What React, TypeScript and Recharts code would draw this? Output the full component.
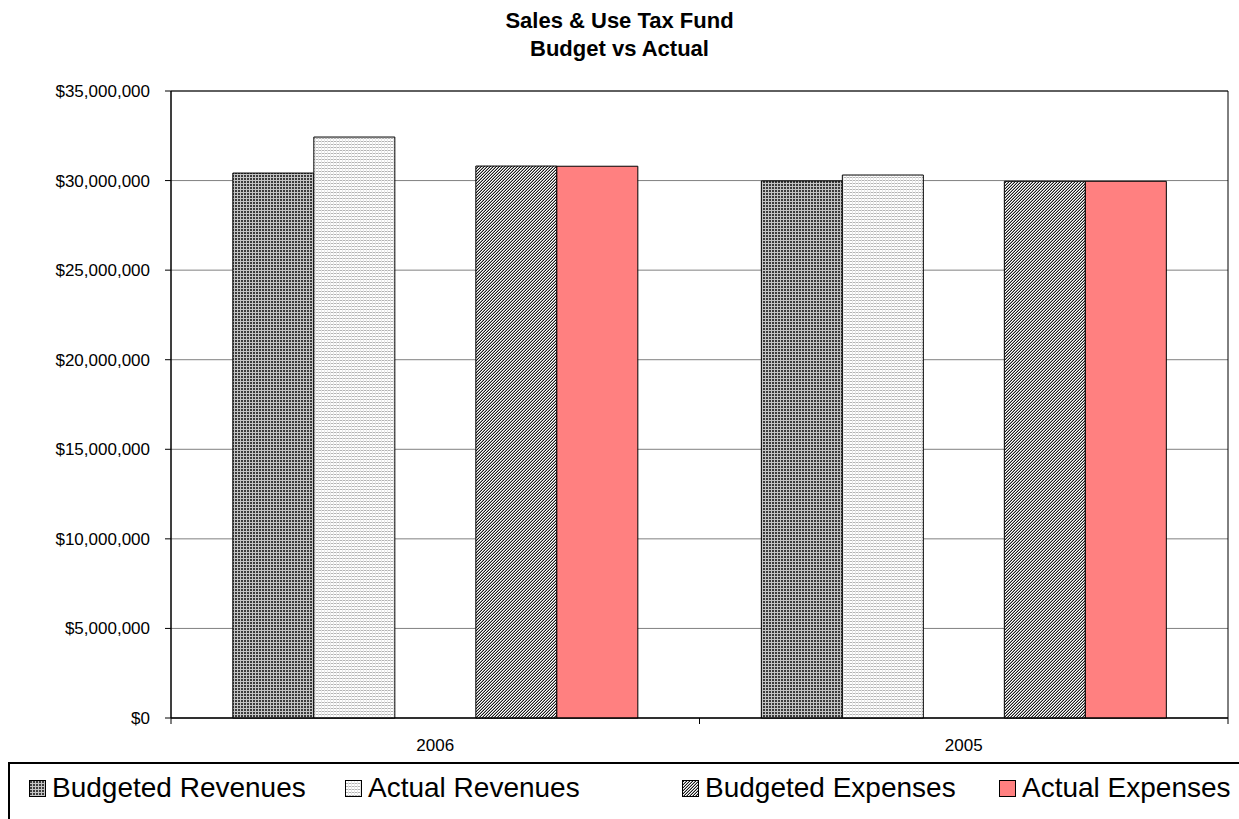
import React from 'react';
import { BarChart, Bar, XAxis, YAxis, CartesianGrid, ReferenceArea } from 'recharts';

const categories = ['2006', '2005'];
const budgetedRevenues = [30420000, 29980000];
const actualRevenues = [32430000, 30310000];
const budgetedExpenses = [30810000, 29960000];
const actualExpenses = [30800000, 29960000];
const yTicks = [0, 5000000, 10000000, 15000000, 20000000, 25000000, 30000000, 35000000];

const seriesNames = ['Budgeted Revenues', 'Actual Revenues', '', 'Budgeted Expenses', 'Actual Expenses'];

const data = categories.map((c, i) => ({
  name: c,
  br: budgetedRevenues[i],
  ar: actualRevenues[i],
  blank: null,
  be: budgetedExpenses[i],
  ae: actualExpenses[i],
}));

const W = 1239;
const H = 819;
const M_TOP = 91;
const M_RIGHT = 11;
const Y_W = 171;
const X_H = 101;
const PLOT_W = W - Y_W - M_RIGHT;
const FONT = '"Liberation Sans", Arial, sans-serif';
const LEGEND_X = [29, 345, 682, 999];

const fmt = (v: number) => '$' + v.toLocaleString('en-US');

const PatternDefs = ({ prefix }: { prefix: string }) => (
  <defs>
    <pattern id={prefix + 'br'} width="3" height="3" patternUnits="userSpaceOnUse">
      <rect width="3" height="3" fill="#3c3c3c" />
      <rect width="3" height="1" fill="#c4c4c4" />
      <rect width="1" height="3" fill="#c4c4c4" />
    </pattern>
    <pattern id={prefix + 'ar'} width="3" height="3" patternUnits="userSpaceOnUse">
      <rect width="3" height="3" fill="#ffffff" />
      <rect width="3" height="1" fill="#b4b4b4" />
      <rect width="1" height="3" fill="#e6e6e6" />
    </pattern>
    <pattern id={prefix + 'be'} width="3" height="3" patternUnits="userSpaceOnUse">
      <rect width="3" height="3" fill="#ffffff" />
      <rect x="2" y="0" width="1" height="1" fill="#1a1a1a" />
      <rect x="1" y="1" width="1" height="1" fill="#1a1a1a" />
      <rect x="0" y="2" width="1" height="1" fill="#1a1a1a" />
      <rect x="1" y="0" width="1" height="1" fill="#a0a0a0" />
      <rect x="0" y="1" width="1" height="1" fill="#a0a0a0" />
      <rect x="2" y="2" width="1" height="1" fill="#a0a0a0" />
    </pattern>
  </defs>
);

const fills = ['url(#cbr)', 'url(#car)', 'none', 'url(#cbe)', '#FF8080'];
const legendFills = ['url(#lbr)', 'url(#lar)', 'url(#lbe)', '#FF8080'];
const legendNames = seriesNames.filter((n) => n !== '');

const XTick = (props: any) => {
  const { x, y, payload, index } = props;
  const half = PLOT_W / categories.length / 2;
  return (
    <g>
      <line x1={x - half} x2={x - half} y1={y} y2={y + 6} stroke="#000" />
      {index === categories.length - 1 && (
        <line x1={x + half} x2={x + half} y1={y} y2={y + 6} stroke="#000" />
      )}
      <text x={x} y={y + 33} textAnchor="middle" fontSize={17} fontFamily={FONT} fill="#000">
        {payload.value}
      </text>
    </g>
  );
};

export default function App() {
  const keys = ['br', 'ar', 'blank', 'be', 'ae'];
  return (
    <div
      style={{
        position: 'absolute',
        left: 0,
        top: 0,
        width: W,
        height: H,
        overflow: 'hidden',
        background: '#fff',
        fontFamily: FONT,
      }}
    >
      <div
        style={{
          position: 'absolute',
          left: 0,
          top: 7,
          width: W,
          textAlign: 'center',
          fontWeight: 'bold',
          fontSize: 22,
          lineHeight: '28px',
          color: '#000',
        }}
      >
        <div>Sales &amp; Use Tax Fund</div>
        <div>Budget vs Actual</div>
      </div>
      <BarChart
        width={W}
        height={H}
        data={data}
        margin={{ top: M_TOP, right: M_RIGHT, left: 0, bottom: 0 }}
        barCategoryGap="11.7%"
        barGap={0}
      >
        <PatternDefs prefix="c" />
        <CartesianGrid vertical={false} stroke="#808080" />
        <ReferenceArea y1={0} y2={35000000} fill="none" stroke="#000" strokeWidth={1} ifOverflow="visible" />
        <XAxis
          dataKey="name"
          height={X_H}
          axisLine={{ stroke: '#000' }}
          tickLine={false}
          tickSize={0}
          tickMargin={0}
          tick={<XTick />}
          interval={0}
        />
        <YAxis
          width={Y_W}
          domain={[0, 35000000]}
          ticks={yTicks}
          tickFormatter={fmt}
          axisLine={{ stroke: '#000' }}
          tickLine={{ stroke: '#000' }}
          tickSize={6}
          tickMargin={15}
          tick={{ fontSize: 17, fill: '#000', fontFamily: FONT }}
          interval={0}
        />
        {keys.map((k, i) => (
          <Bar
            key={k}
            dataKey={k}
            name={seriesNames[i]}
            fill={fills[i]}
            stroke="#000"
            strokeWidth={1}
            isAnimationActive={false}
          />
        ))}
      </BarChart>
      <div
        style={{
          position: 'absolute',
          left: 8,
          top: 762,
          width: 1300,
          height: 100,
          border: '2px solid #000',
          boxSizing: 'border-box',
        }}
      >
        <svg width={0} height={0} style={{ position: 'absolute' }}>
          <PatternDefs prefix="l" />
        </svg>
      </div>
      {legendNames.map((n, i) => (
        <div
          key={i}
          style={{
            position: 'absolute',
            left: LEGEND_X[i],
            top: 772,
            display: 'flex',
            alignItems: 'center',
            height: 32,
          }}
        >
          <svg width={17} height={17} style={{ marginRight: 6 }}>
            <rect x={0.5} y={0.5} width={16} height={16} fill={legendFills[i]} stroke="#000" />
          </svg>
          <span style={{ fontSize: 28, color: '#000', whiteSpace: 'nowrap' }}>{n}</span>
        </div>
      ))}
    </div>
  );
}
